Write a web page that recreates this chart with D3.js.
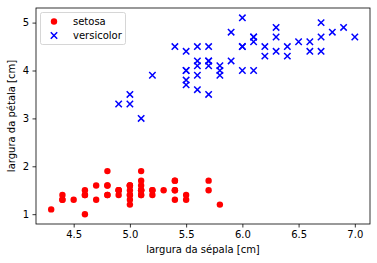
<!DOCTYPE html>
<html><head><meta charset="utf-8">
<script src="https://cdn.jsdelivr.net/npm/d3@7"></script>
<style>body{margin:0;background:#fff}svg{display:block}text{font-family:"DejaVu Sans",sans-serif}</style>
</head><body>
<svg id="c" width="377" height="263"></svg>
<script>
const setosaSepal = [5.1,4.9,4.7,4.6,5.0,5.4,4.6,5.0,4.4,4.9,5.4,4.8,4.8,4.3,5.8,5.7,5.4,5.1,5.7,5.1,5.4,5.1,4.6,5.1,4.8,5.0,5.0,5.2,5.2,4.7,4.8,5.4,5.2,5.5,4.9,5.0,5.5,4.9,4.4,5.1,5.0,4.5,4.4,5.0,5.1,4.8,5.1,4.6,5.3,5.0];
const setosaPetal = [1.4,1.4,1.3,1.5,1.4,1.7,1.4,1.5,1.4,1.5,1.5,1.6,1.4,1.1,1.2,1.5,1.3,1.4,1.7,1.5,1.7,1.5,1.0,1.7,1.9,1.6,1.6,1.5,1.4,1.6,1.6,1.5,1.5,1.4,1.5,1.2,1.3,1.5,1.3,1.5,1.3,1.3,1.3,1.6,1.9,1.4,1.6,1.4,1.5,1.4];
const versiSepal = [7.0,6.4,6.9,5.5,6.5,5.7,6.3,4.9,6.6,5.2,5.0,5.9,6.0,6.1,5.6,6.7,5.6,5.8,6.2,5.6,5.9,6.1,6.3,6.1,6.4,6.6,6.8,6.7,6.0,5.7,5.5,5.5,5.8,6.0,5.4,6.0,6.7,6.3,5.6,5.5,5.5,6.1,5.8,5.0,5.6,5.7,5.7,6.2,5.1,5.7];
const versiPetal = [4.7,4.5,4.9,4.0,4.6,4.5,4.7,3.3,4.6,3.9,3.5,4.2,4.0,4.7,3.6,4.4,4.5,4.1,4.5,3.9,4.8,4.0,4.9,4.7,4.3,4.4,4.8,5.0,4.5,3.5,3.8,3.7,3.9,5.1,4.5,4.5,4.7,4.4,4.1,4.0,4.4,4.6,4.0,3.3,4.2,4.2,4.2,4.3,3.0,4.1];
const xTicks = [4.5,5.0,5.5,6.0,6.5,7.0];
const yTicks = [1,2,3,4,5];
const seriesNames = ["setosa","versicolor"];

const L=36,R=370,T=8,B=224;
const svg=d3.select("#c");
const x=d3.scaleLinear().domain([4.165,7.135]).range([L,R]);
const y=d3.scaleLinear().domain([0.795,5.305]).range([B,T]);

// points
const g=svg.append("g");
g.selectAll("circle.s").data(d3.zip(setosaSepal,setosaPetal)).join("circle")
 .attr("cx",d=>x(d[0])).attr("cy",d=>y(d[1])).attr("r",3.2).attr("fill","#ff0000");
const xs=3.2;
const xg=g.selectAll("path.v").data(d3.zip(versiSepal,versiPetal)).join("path")
 .attr("d",d=>{const cx=x(d[0]),cy=y(d[1]);return `M${cx-xs},${cy-xs}L${cx+xs},${cy+xs}M${cx-xs},${cy+xs}L${cx+xs},${cy-xs}`;})
 .attr("stroke","#0000ff").attr("stroke-width",1.5).attr("fill","none");

// axes
const ax=svg.append("g").attr("transform",`translate(0,${B})`)
 .call(d3.axisBottom(x).tickValues(xTicks).tickFormat(d3.format(".1f")).tickSize(3.5).tickPadding(3.5));
const ay=svg.append("g").attr("transform",`translate(${L},0)`)
 .call(d3.axisLeft(y).tickValues(yTicks).tickFormat(d3.format("d")).tickSize(3.5).tickPadding(3.5));
[ax,ay].forEach(a=>{a.select(".domain").remove();a.selectAll("text").attr("font-size",10).attr("fill","#000").style("font-family","DejaVu Sans");a.selectAll("line").attr("stroke","#000").attr("stroke-width",0.8);});
svg.append("rect").attr("x",L).attr("y",T).attr("width",R-L).attr("height",B-T)
 .attr("fill","none").attr("stroke","#000").attr("stroke-width",0.8);

svg.append("text").attr("x",(L+R)/2).attr("y",253).attr("text-anchor","middle").attr("font-size",10).text("largura da sépala [cm]");
svg.append("text").attr("transform",`translate(15,${(T+B)/2}) rotate(-90)`).attr("text-anchor","middle").attr("font-size",10).text("largura da pétala [cm]");

// legend
const lg=svg.append("g");
lg.append("rect").attr("x",40.5).attr("y",12.5).attr("width",85).attr("height",32).attr("rx",2)
 .attr("fill","#fff").attr("fill-opacity",0.8).attr("stroke","#cccccc").attr("stroke-width",0.8);
lg.append("circle").attr("cx",54).attr("cy",21.5).attr("r",3.2).attr("fill","#ff0000");
lg.append("path").attr("d",`M${54-xs},${35.5-xs}L${54+xs},${35.5+xs}M${54-xs},${35.5+xs}L${54+xs},${35.5-xs}`).attr("stroke","#0000ff").attr("stroke-width",1.5);
lg.selectAll("text.l").data(seriesNames).join("text").attr("x",73).attr("y",(d,i)=>25+i*14).attr("font-size",10).text(d=>d);
</script>
</body></html>
